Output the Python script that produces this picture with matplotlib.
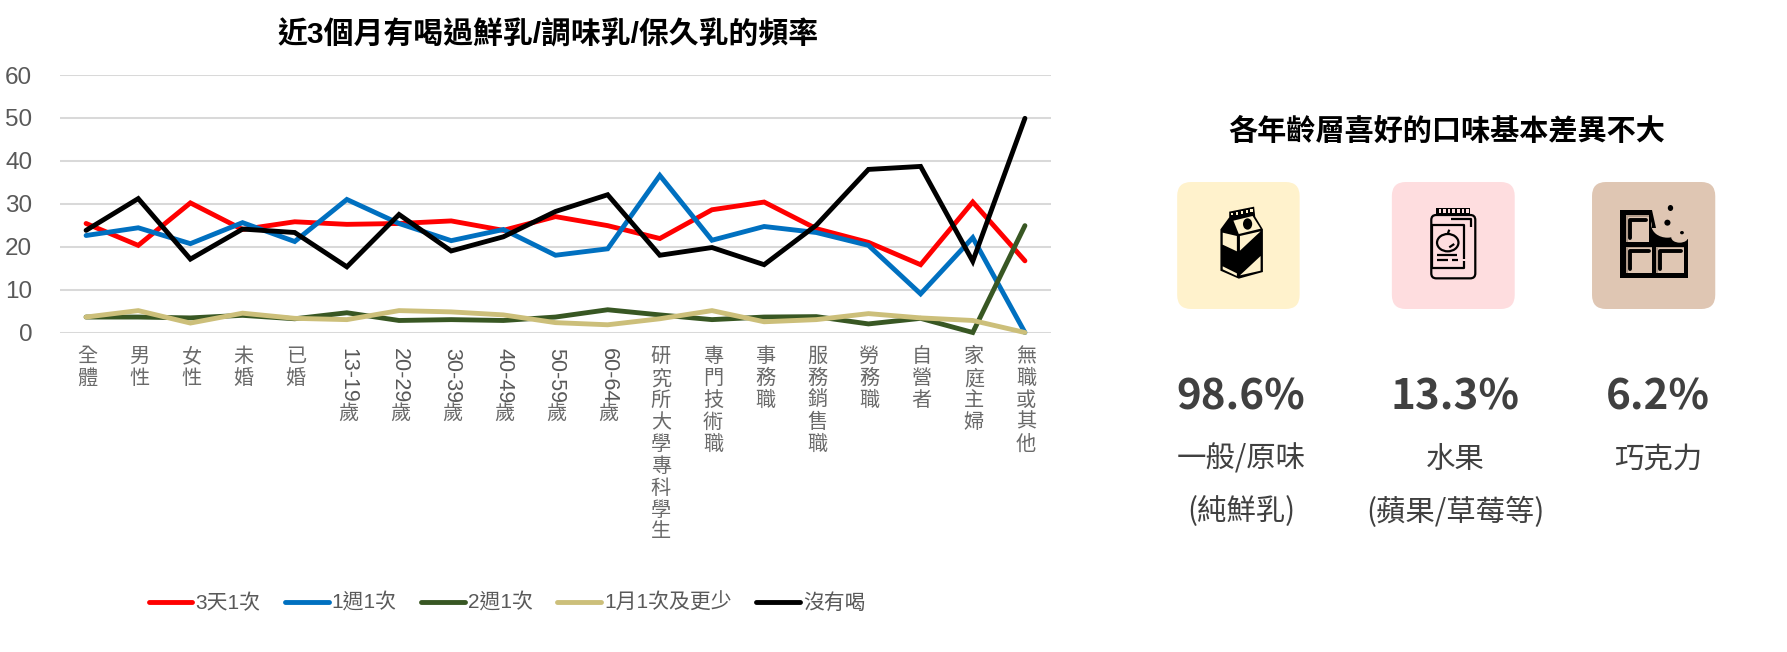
import matplotlib
matplotlib.use("Agg")
import matplotlib.pyplot as plt
from matplotlib.patches import FancyBboxPatch, Polygon, Rectangle, Ellipse
from matplotlib.lines import Line2D
from matplotlib.transforms import blended_transform_factory

plt.rcParams['font.family'] = ['Liberation Sans', 'Noto Sans CJK TC', 'DejaVu Sans']

categories = ['全體', '男性', '女性', '未婚', '已婚', '13-19歲', '20-29歲', '30-39歲', '40-49歲', '50-59歲',
              '60-64歲', '研究所大學專科學生', '專門技術職', '事務職', '服務銷售職', '勞務職', '自營者', '家庭主婦', '無職或其他']
three_days = [25.4, 20.3, 30.2, 24.0, 25.8, 25.2, 25.4, 26.0, 23.8, 27.0, 24.9, 21.9, 28.6, 30.4, 24.2, 21.0, 15.8, 30.4, 16.7]
one_week = [22.6, 24.4, 20.7, 25.6, 21.2, 31.0, 25.4, 21.4, 24.0, 18.0, 19.5, 36.6, 21.5, 24.7, 23.3, 20.3, 9.0, 22.1, 0.0]
two_weeks = [3.6, 3.6, 3.4, 4.0, 3.2, 4.6, 2.8, 3.0, 2.8, 3.6, 5.3, 4.1, 3.0, 3.6, 3.7, 2.0, 3.3, 0.0, 24.9]
one_month = [3.6, 5.1, 2.2, 4.5, 3.3, 3.0, 5.1, 4.8, 4.1, 2.3, 1.8, 3.2, 5.1, 2.5, 3.0, 4.4, 3.4, 2.8, 0.0]
none_drunk = [23.8, 31.2, 17.1, 24.1, 23.3, 15.3, 27.5, 19.0, 22.3, 28.2, 32.1, 18.0, 19.8, 15.8, 25.0, 38.0, 38.7, 16.6, 49.9]
series_names = ['3天1次', '1週1次', '2週1次', '1月1次及更少', '沒有喝']
series_colors = ['#FF0000', '#0070C0', '#385723', '#CCBF7A', '#000000']
yticks = [0, 10, 20, 30, 40, 50, 60]
chart_title = '近3個月有喝過鮮乳/調味乳/保久乳的頻率'
side_title = '各年齡層喜好的口味基本差異不大'
flavour_pct = ['98.6%', '13.3%', '6.2%']
flavour_line1 = ['一般/原味', '水果', '巧克力']
flavour_line2 = ['(純鮮乳)', '(蘋果/草莓等)', '']

W, H = 1787, 652
fig = plt.figure(figsize=(W / 100, H / 100), dpi=100, facecolor='white')

# page-level overlay in pixel coordinates
pg = fig.add_axes([0, 0, 1, 1], zorder=0)
pg.set_xlim(0, W); pg.set_ylim(H, 0); pg.axis('off')

ax = fig.add_axes([60 / W, 1 - 332.5 / H, 991 / W, 257.5 / H], zorder=1)
ax.patch.set_alpha(0)
xs = list(range(len(categories)))
for vals, c in zip([three_days, one_week, two_weeks, one_month, none_drunk], series_colors):
    ax.plot(xs, vals, color=c, lw=3.5, solid_capstyle='round', solid_joinstyle='miter', clip_on=False)
ax.set_xlim(-0.5, len(categories) - 0.5)
ax.set_ylim(0, 60)
ax.set_yticks(yticks)
ax.set_axisbelow(True)
ax.grid(axis='y', color='#D9D9D9', lw=1.45)
for s in ax.spines.values():
    s.set_visible(False)
ax.tick_params(axis='y', length=0, pad=20, labelsize=17.5, labelcolor='#595959')
ax.set_xticks(xs)
ax.set_xticklabels([])
ax.tick_params(axis='x', length=0)

# vertical category labels
tr = blended_transform_factory(ax.transData, pg.transData)
for i, lab in enumerate(categories):
    if lab[0].isdigit():
        ax.text(i + 0.01, 348, lab[:-1], transform=tr, rotation=-90, ha='center', va='top',
                fontsize=15.5, color='#595959', clip_on=False)
        ax.text(i + 0.02, 404, lab[-1], transform=tr, ha='center', va='top',
                fontsize=14.5, color='#6a6a6a', clip_on=False)
    else:
        ax.text(i + 0.02, 347, '\n'.join(lab), transform=tr, ha='center', va='top', linespacing=1.19,
                fontsize=14.5, color='#6a6a6a', clip_on=False)

handles = [Line2D([0], [0], color=c, lw=3.5, solid_capstyle='round') for c in series_colors]
fig.legend(handles, series_names, loc='center', bbox_to_anchor=(507 / W, 1 - 603 / H), ncol=5, frameon=False,
           fontsize=15, labelcolor='#595959', handlelength=2.1, handletextpad=0.15, columnspacing=1.17,
           borderpad=0, borderaxespad=0)

pg.text(548, 35, chart_title, ha='center', va='center', fontsize=21.5, fontweight='bold', color='black')
pg.text(1447, 132, side_title, ha='center', va='center', fontsize=21, fontweight='bold', color='black')

centers = [1241, 1455, 1658]
for cx, p, a, b in zip(centers, flavour_pct, flavour_line1, flavour_line2):
    pg.text(cx, 397, p, ha='center', va='center', fontsize=30.3, fontweight='bold', color='#404040',
            family=['Noto Sans CJK TC', 'DejaVu Sans'])
    pg.text(cx, 459, a, ha='center', va='center', fontsize=21.2, color='#404040',
            family=['Noto Sans CJK TC', 'DejaVu Sans'])
    if b:
        pg.text(cx, 512, b, ha='center', va='center', fontsize=21.2, color='#404040',
                family=['Noto Sans CJK TC', 'DejaVu Sans'])

# --- icons (decoration), coordinates taken from a magnified crop
SX = 2.613
def zx(v): return 1150 + v / SX
def zy(v): return 160 + v / 3
def P(pts): return [(zx(a), zy(b)) for a, b in pts]

def card(x0, x1, color):
    pg.add_patch(FancyBboxPatch((zx(x0) + 14, 182 + 14), zx(x1) - zx(x0) - 28, 127 - 28,
                                boxstyle='round,pad=14,rounding_size=14', fc=color, ec='none'))

def poly(pts, fc, ec='none', lw=0, closed=True):
    pg.add_patch(Polygon(P(pts), closed=closed, fc=fc, ec=ec, lw=lw, joinstyle='round'))

def line(pts, lw=1.6, color='black', cap='butt'):
    p = P(pts)
    pg.plot([a for a, _ in p], [b for _, b in p], color=color, lw=lw, solid_capstyle=cap, solid_joinstyle='round')

def rect(x0, y0, x1, y1, fc):
    pg.add_patch(Rectangle((zx(x0), zy(y0)), (x1 - x0) / SX, (y1 - y0) / 3, fc=fc, ec='none'))

def ell(cx, cy, rx, ry, fc='none', ec='none', lw=0):
    pg.add_patch(Ellipse((zx(cx), zy(cy)), 2 * rx / SX, 2 * ry / 3, fc=fc, ec=ec, lw=lw))

CREAM, PINK, BROWN = '#FFF2CC', '#FEDDDF', '#DFC6B3'
card(71, 391, CREAM); card(632, 953, PINK); card(1155, 1477, BROWN)

# milk carton
poly([(207, 155), (272, 140), (275, 170), (295, 208), (295, 336), (232, 356), (184, 332), (184, 208), (207, 172)], 'black')
poly([(218, 182), (268, 168), (289, 206), (232, 222)], CREAM)
poly([(190, 218), (227, 228), (227, 274), (190, 254)], CREAM)
poly([(235, 228), (289, 214), (235, 272)], CREAM)
poly([(190, 319), (227, 340), (227, 348), (190, 328)], CREAM)
poly([(235, 346), (289, 288), (289, 332)], CREAM)
ell(255, 192, 12, 17, fc='black')
for x, y in [(215, 162), (227, 160), (240, 157), (253, 154), (265, 151)]:
    rect(x - 3, y - 4, x + 3, y + 4, CREAM)

# jar
pg.add_patch(FancyBboxPatch((zx(735) + 5, zy(165) + 5), 115 / SX - 10, 190 / 3 - 10,
                            boxstyle='round,pad=5,rounding_size=5', fc='none', ec='black', lw=1.6))
rect(748, 143, 836, 163, 'black')
for x in [754, 766, 778, 790, 802, 814, 826]:
    rect(x, 148, x + 7, 160, PINK)
line([(737, 195), (820, 195), (820, 296)])
line([(737, 195), (737, 325), (820, 325), (820, 304)])
line([(787, 176), (838, 176), (838, 200)])
ell(778, 248, 28, 26, ec='black', lw=1.6)
line([(778, 222), (782, 209)])
line([(782, 262), (795, 252)])
line([(750, 286), (803, 286)])
line([(750, 299), (778, 299)]); line([(788, 299), (805, 299)])

# chocolate
rect(1228, 150, 1406, 354, 'black')
ell(1352, 195, 42, 38, fc=BROWN)
ell(1384, 232, 22, 16, fc=BROWN)
rect(1312, 140, 1420, 205, BROWN)
rect(1385, 140, 1420, 238, BROWN)
poly([(1312, 150), (1312, 205), (1322, 205)], 'black')
for x0, y0, x1, y1 in [(1243, 165, 1304, 245), (1243, 260, 1312, 340), (1322, 260, 1395, 340)]:
    rect(x0, y0, x1, y1, '#B29C8B')
    rect(x0 + 5, y0 + 5, x1, y1, BROWN)
    line([(x0 + 10, y1 - 12), (x0 + 10, y0 + 14), (x1 - 8, y0 + 14)], lw=2.8, cap='round')
ell(1360, 144, 7, 9, fc='black')
ell(1352, 188, 8, 9, fc='black')
ell(1390, 218, 5, 5, fc='black')

fig.savefig('out.png', dpi=100)
